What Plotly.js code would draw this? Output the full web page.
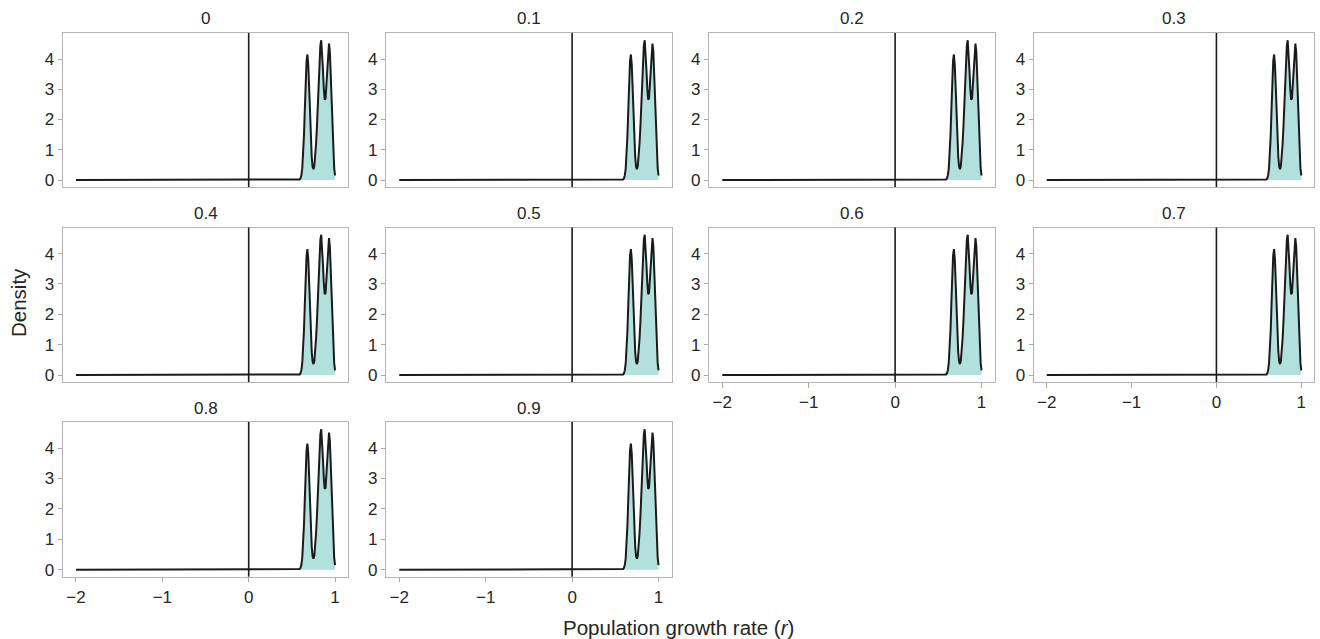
<!DOCTYPE html>
<html>
<head>
<meta charset="utf-8">
<script src="https://cdn.plot.ly/plotly-3.0.1.min.js"></script>
<style>
  html, body { margin: 0; padding: 0; background: #ffffff; }
  #chart { width: 1320px; height: 639px; }
</style>
</head>
<body>
<div id="chart"></div>
<script>
// Facet labels (one panel per value)
const facetLabels = ['0', '0.1', '0.2', '0.3', '0.4', '0.5', '0.6', '0.7', '0.8', '0.9'];

// Posterior density of the population growth rate r
const growthRate = [
  -2, 0.55, 0.56, 0.57, 0.58, 0.59, 0.60, 0.61, 0.62, 0.63, 0.64,
  0.65, 0.66, 0.67, 0.68, 0.69, 0.70, 0.71, 0.72, 0.73, 0.74,
  0.75, 0.76, 0.77, 0.78, 0.79, 0.80, 0.81, 0.82, 0.83, 0.84,
  0.85, 0.86, 0.87, 0.88, 0.89, 0.90, 0.91, 0.92, 0.93, 0.94,
  0.95, 0.96, 0.97, 0.98, 0.99, 1.00
];
const density = [
  0, 0, 0.00, 0.00, 0.01, 0.02, 0.06, 0.16, 0.38, 0.80, 1.46,
  2.33, 3.24, 3.93, 4.15, 3.82, 3.07, 2.15, 1.33, 0.76, 0.44,
  0.36, 0.46, 0.76, 1.20, 1.75, 2.45, 3.25, 3.95, 4.45, 4.62,
  4.26, 3.64, 3.02, 2.66, 2.70, 3.12, 3.76, 4.31, 4.51, 4.24,
  3.47, 2.50, 1.55, 0.85, 0.40, 0.15
];

// Axis ticks
const xTickVals = [-2, -1, 0, 1];
const xTickText = ['\u22122', '\u22121', '0', '1'];
const yTickVals = [0, 1, 2, 3, 4];

// Reference line position
const referenceR = 0;

// Page geometry (pixels)
const W = 1320, H = 639;
const colLeft = [63, 386.3, 709.3, 1034];
const colRight = [348, 671.5, 994.5, 1314];
const rowTop = [33, 227.5, 422];
const rowBottom = [187, 382, 576.7];
const nCols = 4;

const fontFamily = 'Liberation Sans, Arial, Helvetica, sans-serif';
const textColor = '#262626';
const frameColor = '#b4b4b8';
const tickColor = '#a8a8ac';
const fillColor = '#b2e0dc';
const lineColor = '#1b1b1b';
const textSize = 17;
const titleSize = 20.5;

const traces = [];
const layout = {
  width: W, height: H,
  margin: {l: 0, r: 0, t: 0, b: 0},
  paper_bgcolor: '#ffffff',
  plot_bgcolor: '#ffffff',
  showlegend: false,
  font: {family: fontFamily, color: textColor, size: textSize},
  shapes: [],
  annotations: []
};

facetLabels.forEach((label, i) => {
  const row = Math.floor(i / nCols);
  const col = i % nCols;
  const suffix = i === 0 ? '' : String(i + 1);
  const xName = 'x' + suffix, yName = 'y' + suffix;
  // a panel shows x tick labels when no panel sits below it
  const showX = (i + nCols) >= facetLabels.length;

  traces.push({
    type: 'scatter', mode: 'lines',
    x: growthRate, y: density,
    xaxis: xName, yaxis: yName,
    fill: 'tozeroy', fillcolor: fillColor,
    line: {color: lineColor, width: 2},
    hoverinfo: 'skip'
  });

  const xDomain = [colLeft[col] / W, colRight[col] / W];
  const yDomain = [1 - rowBottom[row] / H, 1 - rowTop[row] / H];

  layout['xaxis' + suffix] = {
    domain: xDomain, anchor: yName,
    range: [-2.15, 1.15],
    showline: true, mirror: true, linecolor: frameColor, linewidth: 1,
    showgrid: false, zeroline: false,
    ticks: showX ? 'outside' : '', ticklen: 4.5, tickwidth: 1, tickcolor: tickColor,
    tickmode: 'array', tickvals: xTickVals, ticktext: xTickText,
    showticklabels: showX,
    tickfont: {size: textSize, color: textColor, family: fontFamily},
    fixedrange: true
  };
  layout['yaxis' + suffix] = {
    domain: yDomain, anchor: xName,
    range: [-0.23, 4.86],
    showline: true, mirror: true, linecolor: frameColor, linewidth: 1,
    showgrid: false, zeroline: false,
    ticks: 'outside', ticklen: 4.5, tickwidth: 1, tickcolor: tickColor,
    tickmode: 'array', tickvals: yTickVals,
    tickfont: {size: textSize, color: textColor, family: fontFamily},
    fixedrange: true
  };

  // vertical reference line at r = 0
  layout.shapes.push({
    type: 'line', xref: xName, yref: yName + ' domain',
    x0: referenceR, x1: referenceR, y0: 0, y1: 1,
    line: {color: lineColor, width: 1.6}
  });

  // facet strip label
  layout.annotations.push({
    text: label, showarrow: false,
    xref: 'paper', yref: 'paper',
    x: (colLeft[col] + colRight[col]) / 2 / W,
    y: 1 - (rowTop[row] - 14) / H,
    xanchor: 'center', yanchor: 'middle',
    font: {size: textSize, color: textColor, family: fontFamily}
  });
});

// shared axis titles
layout.annotations.push({
  text: 'Population growth rate (<i>r</i>)', showarrow: false,
  xref: 'paper', yref: 'paper',
  x: 678 / W, y: 1 - 627 / H,
  xanchor: 'center', yanchor: 'middle',
  font: {size: titleSize, color: textColor, family: fontFamily}
});
layout.annotations.push({
  text: 'Density', showarrow: false, textangle: -90,
  xref: 'paper', yref: 'paper',
  x: 18 / W, y: 1 - 303 / H,
  xanchor: 'center', yanchor: 'middle',
  font: {size: titleSize, color: textColor, family: fontFamily}
});

Plotly.newPlot('chart', traces, layout, {displayModeBar: false, staticPlot: true});
</script>
</body>
</html>
